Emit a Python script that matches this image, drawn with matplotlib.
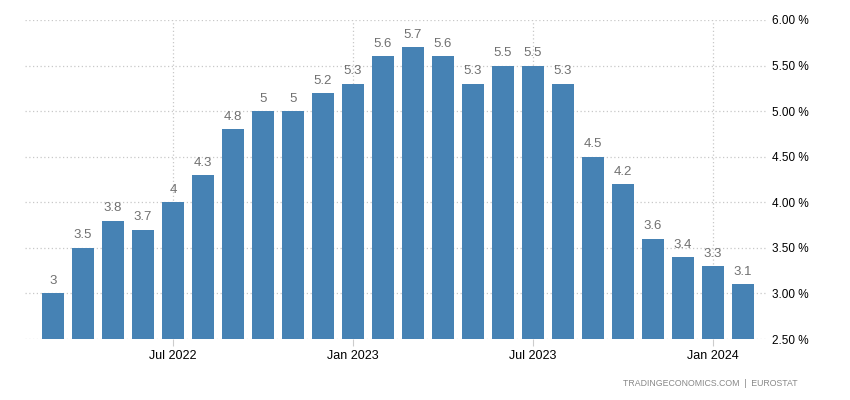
import matplotlib
matplotlib.use("Agg")
import matplotlib.pyplot as plt
import numpy as np

months = ["Mar 2022", "Apr 2022", "May 2022", "Jun 2022", "Jul 2022", "Aug 2022",
          "Sep 2022", "Oct 2022", "Nov 2022", "Dec 2022", "Jan 2023", "Feb 2023",
          "Mar 2023", "Apr 2023", "May 2023", "Jun 2023", "Jul 2023", "Aug 2023",
          "Sep 2023", "Oct 2023", "Nov 2023", "Dec 2023", "Jan 2024", "Feb 2024"]
values = [3.0, 3.5, 3.8, 3.7, 4.0, 4.3, 4.8, 5.0, 5.0, 5.2, 5.3, 5.6,
          5.7, 5.6, 5.3, 5.5, 5.5, 5.3, 4.5, 4.2, 3.6, 3.4, 3.3, 3.1]
xtick_labels = ["Jul 2022", "Jan 2023", "Jul 2023", "Jan 2024"]
yticks = [2.5, 3.0, 3.5, 4.0, 4.5, 5.0, 5.5, 6.0]

plt.rcParams["font.family"] = ["Liberation Sans", "DejaVu Sans"]

fig = plt.figure(figsize=(8.5, 4.0), dpi=100)
ax = fig.add_axes([25/850, 1-339/400, (768-25)/850, (339-20)/400])

x = np.arange(len(months))
ax.bar(x, [v - 2.5 for v in values], bottom=2.5, width=0.73, color="#4682b4", zorder=3)

for xi, v in zip(x, values):
    lab = f"{v:g}"
    ax.text(xi, v + 0.07, lab, ha="center", va="bottom", fontsize=9.5, color="#707070", zorder=4)

ax.set_ylim(2.5, 6.0)
ax.set_xlim(-0.93, 23.83)
ax.yaxis.tick_right()
ax.set_yticks(yticks)
ax.set_yticklabels([f"{t:.2f} %" for t in yticks], fontsize=8.5, color="#000000")
xt = [months.index(m) for m in xtick_labels]
ax.set_xticks(xt)
ax.set_xticklabels(xtick_labels, fontsize=9, color="#000000")
ax.tick_params(axis="y", length=0, pad=3)
ax.tick_params(axis="x", length=5, color="#cccccc", pad=3)

for s in ax.spines.values():
    s.set_visible(False)
ax.grid(True, axis="both", color="#c8c8c8", linestyle=(0, (1, 2)), linewidth=0.9, zorder=0)

fig.text(798/850, 1-383/400, "TRADINGECONOMICS.COM  |  EUROSTAT", ha="right", va="center",
         fontsize=6.3, color="#888888")

fig.savefig("out.png", dpi=100)
